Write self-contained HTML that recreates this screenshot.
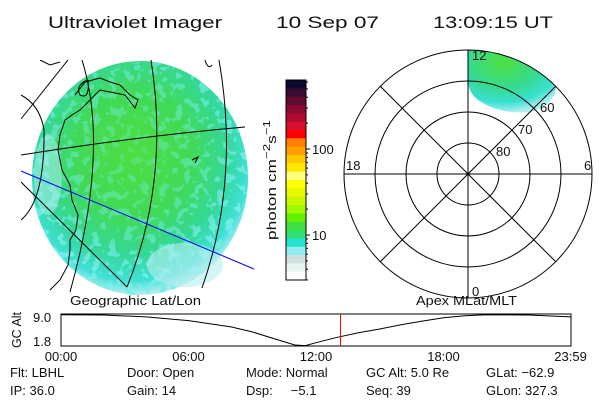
<!DOCTYPE html>
<html><head><meta charset="utf-8"><style>
html,body{margin:0;padding:0;background:#fff;}
svg{display:block;font-family:"Liberation Sans",sans-serif;}
text{fill:#111;}
</style></head><body>
<svg width="600" height="400" viewBox="0 0 600 400" xmlns="http://www.w3.org/2000/svg">
<defs>
<radialGradient id="dg" cx="0.47" cy="0.4" r="0.6">
<stop offset="0" stop-color="#4ede40"/>
<stop offset="0.45" stop-color="#40da58"/>
<stop offset="0.72" stop-color="#34d898"/>
<stop offset="0.9" stop-color="#40e0d8"/>
<stop offset="1" stop-color="#b8eef0"/>
</radialGradient>
<radialGradient id="pg" cx="0.4" cy="0.2" r="0.8">
<stop offset="0" stop-color="#4ce040"/>
<stop offset="0.5" stop-color="#36da90"/>
<stop offset="0.8" stop-color="#38e0d0"/>
<stop offset="1" stop-color="#b0f0f0"/>
</radialGradient>
<radialGradient id="fade" cx="0.47" cy="0.4" r="0.6">
<stop offset="0" stop-color="#fff" stop-opacity="0.25"/>
<stop offset="0.6" stop-color="#fff" stop-opacity="0.5"/>
<stop offset="1" stop-color="#fff" stop-opacity="1"/>
</radialGradient>
<mask id="fademask"><ellipse cx="140" cy="178" rx="108" ry="117" fill="url(#fade)"/></mask>
<filter id="mottle" x="0" y="0" width="1" height="1">
<feTurbulence type="fractalNoise" baseFrequency="0.12" numOctaves="2" seed="3" result="n"/>
<feColorMatrix in="n" type="matrix" values="0 0 0 0 0.19  0 0 0 0 0.86  0 0 0 0 0.80  0 0 0 -14 6.3" result="m"/>
<feComposite in="m" in2="SourceGraphic" operator="in"/>
</filter>
<clipPath id="mapclip"><rect x="21" y="60" width="234" height="232"/></clipPath>
</defs>

<g font-size="17">
<text x="48" y="28" textLength="174" lengthAdjust="spacingAndGlyphs">Ultraviolet Imager</text>
<text x="276" y="28" textLength="103" lengthAdjust="spacingAndGlyphs">10 Sep 07</text>
<text x="433" y="28" textLength="120" lengthAdjust="spacingAndGlyphs">13:09:15 UT</text>
</g>

<g>
<ellipse cx="140" cy="178" rx="108" ry="117" fill="url(#dg)"/>
<rect x="32" y="61" width="216" height="234" fill="#000" filter="url(#mottle)" mask="url(#fademask)"/>
<ellipse cx="185" cy="265" rx="38" ry="22" fill="#b8eef0" opacity="0.6"/>
<ellipse cx="48" cy="175" rx="14" ry="40" fill="#b8f0f0" opacity="0.5"/>
<g clip-path="url(#mapclip)" fill="none" stroke="#000" stroke-width="1">
<path d="M21,155 Q140,136 245,127"/>
<path d="M82,60 Q110,150 70,292"/>
<path d="M151,60 Q170,180 127,287"/>
<path d="M219,60 Q240,180 202,288"/>
<path d="M21,119 L68,60"/>
<path d="M21,182 L127,287"/>
<path d="M21,95 Q40,105 44,130 Q45,200 21,220"/>
<path d="M40,60 L50,65 L60,62 M75,95 L85,82 L100,78 L110,82 L120,85 L130,95 L138,100 L135,108 L125,95 L100,90 L90,100 L80,110 L72,115 L65,120 L60,135 L58,150 L62,170 L70,185 L72,200 L78,215 L76,230 L70,240 L70,250 L68,265 L60,280 L50,290"/>
<path d="M88,80 Q90,100 80,95 Q75,85 88,80"/>
<path d="M192,160 L198,157 L195,163"/>
<path d="M205,60 Q208,70 212,65"/>
</g>
<path d="M21,171 L254,269" stroke="#0000ff" stroke-width="1" fill="none"/>
</g>

<g id="cbar"></g>
<text transform="translate(276,240) rotate(-90)" font-size="13" textLength="120" lengthAdjust="spacingAndGlyphs">photon cm<tspan dy="-6" font-size="10">−2</tspan><tspan dy="6">s</tspan><tspan dy="-6" font-size="10">−1</tspan></text>

<g fill="none" stroke="#000" stroke-width="1">
<path d="M468,50 A124,124 0 0 1 556,87 Q555,105 530,112 Q500,115 478,100 Q468,92 468,80 Z" fill="url(#pg)" stroke="none"/>
<circle cx="468" cy="174" r="124"/>
<circle cx="468" cy="174" r="93"/>
<circle cx="468" cy="174" r="62"/>
<circle cx="468" cy="174" r="31"/>
<line x1="344" y1="174" x2="592" y2="174"/>
<line x1="468" y1="50" x2="468" y2="298"/>
<line x1="380" y1="86" x2="556" y2="262"/>
<line x1="556" y1="86" x2="380" y2="262"/>
</g>
<g font-size="13">
<text x="472" y="60">12</text>
<text x="540" y="112">60</text>
<text x="518" y="134">70</text>
<text x="496" y="156">80</text>
<text x="346" y="170">18</text>
<text x="584" y="170">6</text>
<text x="472" y="296">0</text>
</g>

<g>
<text x="70" y="305" font-size="13" textLength="131" lengthAdjust="spacingAndGlyphs">Geographic Lat/Lon</text>
<text x="416" y="305" font-size="13" textLength="101" lengthAdjust="spacingAndGlyphs">Apex MLat/MLT</text>
<rect x="61" y="314" width="510" height="32" fill="none" stroke="#000"/>
<path id="altline" fill="none" stroke="#000" stroke-width="1"/>
<line id="nowline" y1="314" y2="346" stroke="#ff0000" stroke-width="1"/>
<text transform="translate(21,348) rotate(-90)" font-size="13" textLength="36" lengthAdjust="spacingAndGlyphs">GC Alt</text>
<text x="33" y="322" font-size="13">9.0</text>
<text x="33" y="346" font-size="13">1.8</text>
<g id="xticks" font-size="13"></g>
</g>

<g font-size="13">
<text x="10" y="377">Flt: LBHL</text>
<text x="127" y="377">Door: Open</text>
<text x="246" y="377">Mode: Normal</text>
<text x="366" y="377">GC Alt: 5.0 Re</text>
<text x="486" y="377">GLat: −62.9</text>
<text x="10" y="395">IP: 36.0</text>
<text x="127" y="395">Gain: 14</text>
<text x="246" y="395">Dsp:&#160;&#160;&#160;&#160; −5.1</text>
<text x="366" y="395">Seq: 39</text>
<text x="486" y="395">GLon: 327.3</text>
</g>
</svg>
<script>
const cbarColors=["#0a0a30","#3a0a30","#600a30","#8a0a30","#b00a30","#d81030","#ff0000","#ff7f00","#ffa000","#ffc800","#ffe800","#ffff80","#ffff00","#e8f800","#c8f800","#a0f800","#60f000","#40e040","#30e070","#28e0d0","#90eef0","#d0e0e0","#e8f4f0","#ffffff"];
const cbarTickLabels=["100","10"];
const cbarTickValues=[100,10];
const altHours=[0,2,4,6,8,9,10,11,11.5,12,13,14,15,16,17,18,19,20,22,23.98];
const altValues=[9.0,8.95,8.5,7.6,6.1,4.9,3.3,1.75,1.6,2.3,3.6,4.7,5.6,6.6,7.5,8.3,8.8,9.0,8.95,8.5];
const currentHour=13.154;
const xTickLabels=["00:00","06:00","12:00","18:00","23:59"];
const xTickHours=[0,6,12,18,23.98];
const NS="http://www.w3.org/2000/svg";
const cb=document.getElementById('cbar');
const cbTop=80,cbBot=280,cbX=286,cbW=20;
const bh=(cbBot-cbTop)/cbarColors.length;
cbarColors.forEach((c,i)=>{const r=document.createElementNS(NS,'rect');


r.setAttribute('x',cbX);r.setAttribute('y',cbTop+i*bh);r.setAttribute('width',cbW);r.setAttribute('height',bh+0.3);r.setAttribute('fill',c);cb.appendChild(r);});
const fr=document.createElementNS(NS,'rect');


fr.setAttribute('x',cbX);fr.setAttribute('y',cbTop);fr.setAttribute('width',cbW);fr.setAttribute('height',cbBot-cbTop);fr.setAttribute('fill','none');fr.setAttribute('stroke','#000');cb.appendChild(fr);
function cbY(v){return 235-(Math.log10(v)-1)*86;}
for(let k=1;k<=9;k++){[1,10,100].forEach(d=>{const v=k*d;const y=cbY(v);if(y<cbTop||y>cbBot)return;const l=document.createElementNS(NS,'line');


l.setAttribute('x1',cbX+cbW);l.setAttribute('x2',cbX+cbW+(k==1?4:2));l.setAttribute('y1',y);l.setAttribute('y2',y);l.setAttribute('stroke','#000');cb.appendChild(l);});}
cbarTickLabels.forEach((t,i)=>{const tx=document.createElementNS(NS,'text');


tx.setAttribute('x',cbX+cbW+6);tx.setAttribute('y',cbY(cbarTickValues[i])+5);tx.setAttribute('font-size','13');tx.textContent=t;cb.appendChild(tx);});
const x0=61,x1=571,yb=346,yt=314;
function xs(h){return x0+h/24*(x1-x0);}
function ys(a){return yb-(a-1.5)/(9.2-1.5)*(yb-yt);}
document.getElementById('altline').setAttribute('d',altHours.map((h,i)=>(i?'L':'M')+xs(h).toFixed(1)+','+ys(altValues[i]).toFixed(1)).join(' '));
const nl=document.getElementById('nowline');nl.setAttribute('x1',xs(currentHour));nl.setAttribute('x2',xs(currentHour));
const xt=document.getElementById('xticks');
xTickLabels.forEach((t,i)=>{const tx=document.createElementNS(NS,'text');


tx.setAttribute('x',xs(xTickHours[i]));tx.setAttribute('y',361);tx.setAttribute('text-anchor','middle');tx.textContent=t;xt.appendChild(tx);});
</script>
</body></html>
